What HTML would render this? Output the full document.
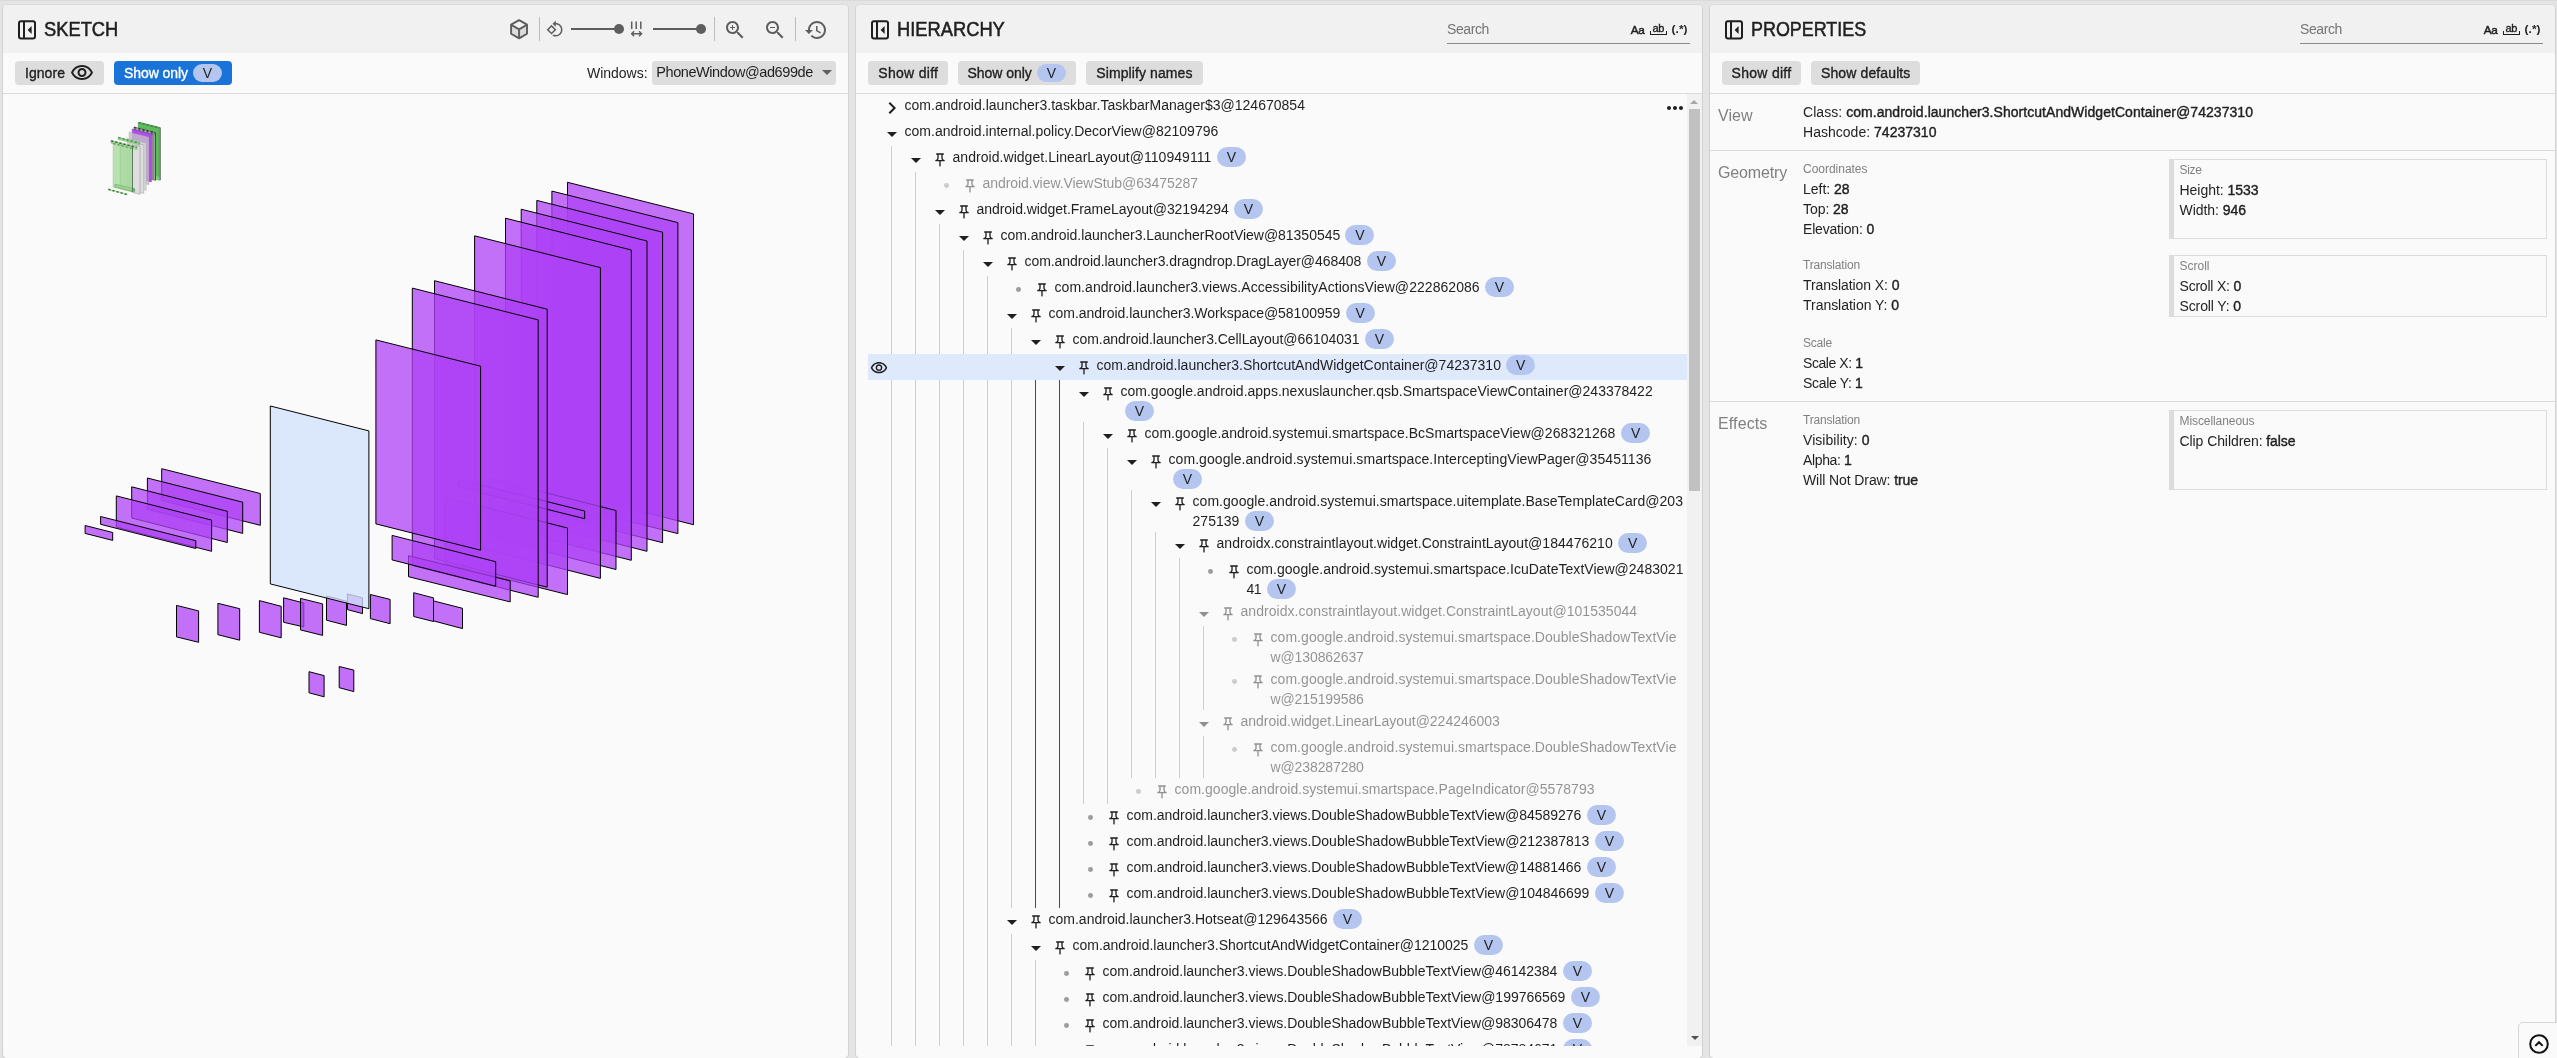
<!DOCTYPE html>
<html lang="en"><head><meta charset="utf-8"><title>Winscope</title>
<style>
html,body{margin:0;padding:0}
body{width:2557px;height:1058px;overflow:hidden;position:relative;background:#e4e4e4;
font-family:"Liberation Sans",sans-serif;}
.root{position:absolute;left:0;top:0;width:2557px;height:1058px;overflow:hidden;will-change:transform}
.a{position:absolute;display:block}
.t{position:absolute;white-space:nowrap;display:block}
.m{-webkit-text-stroke:.35px currentColor}
.m2{-webkit-text-stroke:.55px currentColor}
.t b{font-weight:normal;-webkit-text-stroke:.4px currentColor}
.g{opacity:.48}
</style></head>
<body>
<div class="root">
<div class="a" style="left:0px;top:0px;width:2557px;height:1px;background:#dadada;"></div>
<div class="a" style="left:3px;top:5px;width:845px;height:1053px;background:#fafafa;border-radius:4px;box-shadow:-1px 0 0 rgba(0,0,0,.08),1px 0 0 rgba(0,0,0,.08),0 -1px 0 rgba(0,0,0,.035),0 1px 0 rgba(0,0,0,.08);overflow:hidden;"></div><div class="a" style="left:3px;top:5px;width:845px;height:48px;background:#f1f1f1;border-radius:4px 4px 0 0;"></div><div class="a" style="left:3px;top:93px;width:845px;height:1px;background:#dadada;"></div>
<svg class="a" style="left:15px;top:17.5px" width="24" height="24" viewBox="0 0 24 24"><rect x="4" y="3.2" width="16" height="17.3" rx="2" fill="none" stroke="#1f1f1f" stroke-width="2"/><rect x="8" y="4" width="2" height="16" fill="#1f1f1f"/><path d="M16.6 8v8l-4-4z" fill="#1f1f1f"/></svg>
<span class="t m2" style="left:43.6px;top:14.6px;font-size:21px;line-height:28px;color:#1f1f1f;transform-origin:0 50%;transform:scaleX(0.8722);">SKETCH</span>
<svg class="a" style="left:507px;top:17px" width="24" height="25" viewBox="0 0 24 25"><path d="M4.1 7.7 12.1 12.3 20 7.7V16.7L12.1 21.4 4.1 16.7Z" fill="#dcdcdc"/><path d="M12.1 3.2 20 7.7V16.7L12.1 21.4 4.1 16.7V7.7Z" fill="none" stroke="#5c5c5c" stroke-width="1.9" stroke-linejoin="round"/><path d="M4.3 7.9 12.1 12.4 19.8 7.9M12.1 12.4V21.2" fill="none" stroke="#5c5c5c" stroke-width="1.9"/></svg>
<div class="a" style="left:539px;top:17px;width:1px;height:24px;background:#bcbcbc;"></div>
<svg class="a" style="left:545.8px;top:20.4px;" width="18" height="18" viewBox="0 0 24 24"><path fill="#5e5e5e" d="M7.34 6.41L.86 12.9l6.49 6.48 6.49-6.48-6.5-6.49zM3.69 12.9l3.66-3.66L11 12.9l-3.66 3.66-3.65-3.66zm15.67-6.26C17.61 4.88 15.3 4 13 4V.76L8.76 5 13 9.24V6c1.79 0 3.58.68 4.95 2.05 2.73 2.73 2.73 7.17 0 9.9C16.58 19.32 14.79 20 13 20c-.97 0-1.94-.21-2.84-.61l-1.49 1.49C10.02 21.62 11.51 22 13 22c2.3 0 4.61-.88 6.36-2.64 3.52-3.51 3.52-9.21 0-12.72z"/></svg>
<div class="a" style="left:571px;top:28px;width:45px;height:2px;background:#5e5e5e;"></div>
<div class="a" style="left:614px;top:24px;width:10px;height:10px;background:#5e5e5e;border-radius:50%;"></div>
<svg class="a" style="left:629px;top:20px" width="15" height="18" viewBox="0 0 15 18"><path d="M2.7 1.5v7.6M7.2 1.5v7.6M11.8 1.5v7.6" stroke="#5e5e5e" stroke-width="1.5" fill="none"/><path d="M2.8 13.8h9.6M5.1 11.3 2.6 13.8l2.5 2.5M10.1 11.3 12.6 13.8l-2.5 2.5" stroke="#5e5e5e" stroke-width="1.4" fill="none"/></svg>
<div class="a" style="left:653px;top:28px;width:45px;height:2px;background:#5e5e5e;"></div>
<div class="a" style="left:696px;top:24px;width:10px;height:10px;background:#5e5e5e;border-radius:50%;"></div>
<div class="a" style="left:714px;top:17px;width:1px;height:24px;background:#bcbcbc;"></div>
<svg class="a" style="left:723px;top:18.3px;" width="24" height="24" viewBox="0 0 24 24"><path fill="#5e5e5e" d="M15.5 14h-.79l-.28-.27C15.41 12.59 16 11.11 16 9.5 16 5.91 13.09 3 9.5 3S3 5.91 3 9.5 5.91 16 9.5 16c1.61 0 3.09-.59 4.23-1.57l.27.28v.79l5 4.99L20.49 19l-4.99-5zm-6 0C7.01 14 5 11.99 5 9.5S7.01 5 9.5 5 14 7.01 14 9.5 11.99 14 9.5 14zM12 10h-2v2H9v-2H7V9h2V7h1v2h2v1z"/></svg>
<svg class="a" style="left:763px;top:18.3px;" width="24" height="24" viewBox="0 0 24 24"><path fill="#5e5e5e" d="M15.5 14h-.79l-.28-.27C15.41 12.59 16 11.11 16 9.5 16 5.91 13.09 3 9.5 3S3 5.91 3 9.5 5.91 16 9.5 16c1.61 0 3.09-.59 4.23-1.57l.27.28v.79l5 4.99L20.49 19l-4.99-5zm-6 0C7.01 14 5 11.99 5 9.5S7.01 5 9.5 5 14 7.01 14 9.5 11.99 14 9.5 14zM7 9h5v1H7z"/></svg>
<div class="a" style="left:795px;top:17px;width:1px;height:24px;background:#bcbcbc;"></div>
<svg class="a" style="left:804.3px;top:18px;" width="24" height="24" viewBox="0 0 24 24"><path fill="#5e5e5e" d="M13 3c-4.97 0-9 4.03-9 9H1l3.89 3.89.07.14L9 12H6c0-3.87 3.13-7 7-7s7 3.13 7 7-3.13 7-7 7c-1.93 0-3.68-.79-4.94-2.06l-1.42 1.42C8.27 19.99 10.51 21 13 21c4.97 0 9-4.03 9-9s-4.03-9-9-9zm-1 5v5l4.28 2.54.72-1.21-3.5-2.08V8H12z"/></svg>
<div class="a" style="left:15px;top:61px;width:89px;height:24px;background:#dddddd;border-radius:4px;"></div>
<span class="t m" style="left:25px;top:63px;font-size:14px;line-height:20px;color:#1f1f1f;letter-spacing:0.049px;">Ignore</span>
<svg class="a" style="left:70.2px;top:61px;" width="24" height="24" viewBox="0 0 24 24"><path fill="#1f1f1f" d="M12 6c3.79 0 7.17 2.13 8.82 5.5C19.17 14.87 15.79 17 12 17s-7.17-2.13-8.82-5.5C4.83 8.13 8.21 6 12 6m0-2C7 4 2.73 7.11 1 11.5 2.73 15.89 7 19 12 19s9.27-3.11 11-7.5C21.27 7.11 17 4 12 4zm0 5c1.38 0 2.5 1.12 2.5 2.5S13.38 14 12 14s-2.5-1.12-2.5-2.5S10.62 9 12 9m0-2c-2.48 0-4.5 2.02-4.5 4.5S9.52 16 12 16s4.5-2.02 4.5-4.5S14.48 7 12 7z"/></svg>
<div class="a" style="left:114px;top:61px;width:118px;height:24px;background:#1a73d8;border-radius:4px;"></div>
<span class="t m" style="left:124px;top:63px;font-size:14px;line-height:20px;color:#fff;letter-spacing:-0.066px;">Show only</span>
<div class="a" style="left:193px;top:64px;width:29px;height:18px;background:#b4c6f0;border-radius:9px;"></div><span class="t" style="left:193px;top:64px;font-size:14px;line-height:18px;color:#1f1f1f;width:29px;text-align:center;">V</span>
<span class="t" style="left:587px;top:63px;font-size:14px;line-height:20px;color:#1f1f1f;letter-spacing:-0.023px;">Windows:</span>
<div class="a" style="left:652px;top:61px;width:184px;height:24px;background:#dddddd;border-radius:4px;"></div>
<span class="t" style="left:656.3px;top:62px;font-size:14.5px;line-height:20px;color:#1f1f1f;letter-spacing:-0.430px;">PhoneWindow@ad699de</span>
<svg class="a" style="left:821.8px;top:70px" width="10" height="5" viewBox="0 0 10 5"><path d="M0 0h10L5 5z" fill="#5e5e5e"/></svg>
<svg class="a" style="left:0;top:0" width="2557" height="1058" viewBox="0 0 2557 1058"><polygon points="567.5,182.3 693.5,213.9 693.5,524.7 567.5,493.1" fill="#ad42f5" fill-opacity="0.75" stroke="#000" stroke-width="1" stroke-opacity="1"/>
<polygon points="551.9,191.1 677.9,222.6 677.9,533.6 551.9,502.1" fill="#ad42f5" fill-opacity="0.75" stroke="#000" stroke-width="1" stroke-opacity="1"/>
<polygon points="536.8,200.4 662.6,232.2 662.6,542.7 536.8,510.9" fill="#ad42f5" fill-opacity="0.75" stroke="#000" stroke-width="1" stroke-opacity="1"/>
<polygon points="521.2,209.2 647.0,241.0 647.0,551.3 521.2,519.5" fill="#ad42f5" fill-opacity="0.75" stroke="#000" stroke-width="1" stroke-opacity="1"/>
<polygon points="505.5,218.2 631.3,250.0 631.3,560.3 505.5,528.5" fill="#ad42f5" fill-opacity="0.75" stroke="#000" stroke-width="1" stroke-opacity="1"/>
<polygon points="489.5,478.5 616.0,510.5 616.0,569.5 489.5,537.5" fill="#ad42f5" fill-opacity="0.75" stroke="#000" stroke-width="1" stroke-opacity="1"/>
<polygon points="474.6,235.8 600.4,267.6 600.4,578.4 474.6,546.6" fill="#ad42f5" fill-opacity="0.75" stroke="#000" stroke-width="1" stroke-opacity="1"/>
<polygon points="458.7,479.5 584.7,511.0 584.7,518.7 458.7,487.2" fill="#ad42f5" fill-opacity="0.75" stroke="#000" stroke-width="1" stroke-opacity="1"/>
<polygon points="445.0,497.3 567.5,528.0 567.5,594.6 445.0,563.9" fill="#ad42f5" fill-opacity="0.75" stroke="#000" stroke-width="1" stroke-opacity="1"/>
<polygon points="434.5,280.7 547.2,309.2 547.2,587.2 434.5,558.7" fill="#ad42f5" fill-opacity="0.75" stroke="#000" stroke-width="1" stroke-opacity="1"/>
<polygon points="412.3,288.1 538.2,319.9 538.2,597.3 412.3,565.5" fill="#ad42f5" fill-opacity="0.75" stroke="#000" stroke-width="1" stroke-opacity="1"/>
<polygon points="408.5,555.7 510.2,580.9 510.2,601.9 408.5,576.7" fill="#ad42f5" fill-opacity="0.75" stroke="#000" stroke-width="1" stroke-opacity="1"/>
<polygon points="392.1,535.4 495.7,561.7 495.7,586.2 392.1,559.9" fill="#ad42f5" fill-opacity="0.75" stroke="#000" stroke-width="1" stroke-opacity="1"/>
<polygon points="375.9,339.9 480.6,366.2 480.6,550.2 375.9,523.9" fill="#ad42f5" fill-opacity="0.75" stroke="#000" stroke-width="1" stroke-opacity="1"/>
<polygon points="161.7,468.7 260.3,493.5 260.3,525.3 161.7,500.5" fill="#ad42f5" fill-opacity="0.75" stroke="#000" stroke-width="1" stroke-opacity="1"/>
<polygon points="147.4,478.0 242.7,502.2 242.7,533.4 147.4,509.2" fill="#ad42f5" fill-opacity="0.75" stroke="#000" stroke-width="1" stroke-opacity="1"/>
<polygon points="131.7,486.8 227.3,511.3 227.3,542.5 131.7,518.0" fill="#ad42f5" fill-opacity="0.75" stroke="#000" stroke-width="1" stroke-opacity="1"/>
<polygon points="116.3,495.9 211.6,520.1 211.6,551.3 116.3,527.1" fill="#ad42f5" fill-opacity="0.75" stroke="#000" stroke-width="1" stroke-opacity="1"/>
<polygon points="100.6,516.5 195.8,540.7 195.8,548.5 100.6,524.3" fill="#ad42f5" fill-opacity="0.75" stroke="#000" stroke-width="1" stroke-opacity="1"/>
<polygon points="85.1,525.5 112.7,532.5 112.7,540.4 85.1,533.4" fill="#ad42f5" fill-opacity="0.75" stroke="#000" stroke-width="1" stroke-opacity="1"/>
<polygon points="433.5,600.9 462.5,608.3 462.5,628.6 433.5,620.9" fill="#ad42f5" fill-opacity="0.75" stroke="#000" stroke-width="1" stroke-opacity="1"/>
<polygon points="413.7,592.7 433.5,597.9 433.5,621.5 413.7,616.5" fill="#ad42f5" fill-opacity="0.75" stroke="#000" stroke-width="1" stroke-opacity="1"/>
<polygon points="370.4,594.5 390.1,599.4 390.1,623.7 370.4,618.6" fill="#ad42f5" fill-opacity="0.75" stroke="#000" stroke-width="1" stroke-opacity="1"/>
<polygon points="347.4,593.9 362.5,597.8 362.5,613.6 347.4,609.6" fill="#ad42f5" fill-opacity="0.75" stroke="#000" stroke-width="1" stroke-opacity="1"/>
<polygon points="326.5,596.0 346.5,601.2 346.5,625.4 326.5,620.2" fill="#ad42f5" fill-opacity="0.75" stroke="#000" stroke-width="1" stroke-opacity="1"/>
<polygon points="283.6,597.8 303.8,603.0 303.8,626.9 283.6,622.3" fill="#ad42f5" fill-opacity="0.75" stroke="#000" stroke-width="1" stroke-opacity="1"/>
<polygon points="300.5,598.4 322.6,603.9 322.6,635.4 300.5,629.9" fill="#ad42f5" fill-opacity="0.75" stroke="#000" stroke-width="1" stroke-opacity="1"/>
<polygon points="259.4,600.6 281.2,606.3 281.2,637.8 259.4,632.3" fill="#ad42f5" fill-opacity="0.75" stroke="#000" stroke-width="1" stroke-opacity="1"/>
<polygon points="217.9,603.3 239.7,608.7 239.7,640.2 217.9,634.7" fill="#ad42f5" fill-opacity="0.75" stroke="#000" stroke-width="1" stroke-opacity="1"/>
<polygon points="176.5,605.4 198.6,610.9 198.6,642.3 176.5,636.9" fill="#ad42f5" fill-opacity="0.75" stroke="#000" stroke-width="1" stroke-opacity="1"/>
<polygon points="309.0,671.7 324.1,675.6 324.1,696.8 309.0,692.8" fill="#ad42f5" fill-opacity="0.75" stroke="#000" stroke-width="1" stroke-opacity="1"/>
<polygon points="339.2,666.5 353.8,670.1 353.8,691.6 339.2,687.7" fill="#ad42f5" fill-opacity="0.75" stroke="#000" stroke-width="1" stroke-opacity="1"/>
<polygon points="270.3,406.0 368.9,430.9 368.9,608.7 270.3,583.9" fill="#d2e3fc" fill-opacity="0.78" stroke="#000" stroke-width="1" stroke-opacity="1"/><polygon points="139.4,122.4 160.4,127.7 160.4,180.0 139.4,174.7" fill="#5cb85c" fill-opacity="0.95" stroke="#3a3a3a" stroke-width="0.8" stroke-opacity="0.7"/>
<polygon points="138.2,122.2 159.1,127.4 159.1,180.2 138.2,175.0" fill="#5fbd5f" fill-opacity="0.95" stroke="#2f6b2f" stroke-width="0.6" stroke-opacity="0.5"/>
<polygon points="155.5,176.0 159.1,176.9 159.1,180.4 155.5,179.5" fill="#7fd07a" fill-opacity="1" stroke="none" stroke-width="0.5" stroke-opacity="1"/>
<line x1="138.4" y1="122.9" x2="159.0" y2="128.1" stroke="#2f7a2f" stroke-width="1.3" stroke-dasharray="2.2 2" stroke-opacity="0.8"/>
<polygon points="134.0,127.0 155.5,132.4 155.5,180.4 134.0,175.0" fill="#a9b3a9" fill-opacity="0.97" stroke="#4a4a4a" stroke-width="0.7" stroke-opacity="0.8"/>
<line x1="153.0" y1="132.3" x2="153.0" y2="179.6" stroke="#3e463e" stroke-width="0.8" stroke-opacity="0.85"/>
<line x1="155.4" y1="132.6" x2="155.4" y2="180.3" stroke="#2e2e2e" stroke-width="0.8" stroke-opacity="0.9"/>
<line x1="134.2" y1="127.6" x2="155.2" y2="132.9" stroke="#333" stroke-width="1.5" stroke-dasharray="2.2 2" stroke-opacity="1"/>
<line x1="134.2" y1="129.6" x2="155.2" y2="134.9" stroke="#444" stroke-width="1.3" stroke-dasharray="2.2 2" stroke-opacity="0.8"/>
<polygon points="132.2,129.1 151.4,133.9 151.4,181.9 132.2,177.1" fill="#b04af2" fill-opacity="1" stroke="#5a2a80" stroke-width="0.5" stroke-opacity="0.7"/>
<polygon points="129.1,131.9 149.0,136.9 149.0,184.7 129.1,179.7" fill="#c4c0c6" fill-opacity="0.78" stroke="#8a8a8a" stroke-width="0.5" stroke-opacity="0.6"/>
<polygon points="127.3,138.4 146.2,143.1 146.2,190.3 127.3,185.6" fill="#d8d8d8" fill-opacity="0.92" stroke="#9c9c9c" stroke-width="0.5" stroke-opacity="0.8"/>
<polygon points="130.0,141.5 143.8,145.0 143.8,193.4 130.0,189.9" fill="#dcdcdc" fill-opacity="0.95" stroke="#8c8c8c" stroke-width="0.5" stroke-opacity="0.8"/>
<polygon points="132.5,144.6 140.0,146.5 140.0,194.3 132.5,192.4" fill="#dedede" fill-opacity="1" stroke="#7c7c7c" stroke-width="0.5" stroke-opacity="0.9"/>
<polygon points="118.1,137.1 139.8,142.5 139.8,144.9 118.1,139.5" fill="#8fd488" fill-opacity="0.9" stroke="#4f9a4f" stroke-width="0.4" stroke-opacity="0.7"/>
<polygon points="110.9,140.3 137.0,146.9 137.0,149.8 110.9,143.2" fill="#a4dc9c" fill-opacity="0.9" stroke="#4f9a4f" stroke-width="0.4" stroke-opacity="0.7"/>
<polygon points="113.2,142.1 132.5,146.9 132.5,191.9 113.2,187.1" fill="#a9d9a0" fill-opacity="0.95" stroke="#6a9a66" stroke-width="0.5" stroke-opacity="0.8"/>
<polygon points="113.2,142.1 120.2,143.9 120.2,188.9 113.2,187.1" fill="#bfe6b6" fill-opacity="0.7" stroke="none" stroke-width="0.5" stroke-opacity="1"/>
<line x1="120.2" y1="143.9" x2="120.2" y2="188.9" stroke="#8fc088" stroke-width="0.5" stroke-opacity="1"/>
<line x1="132.5" y1="147.2" x2="132.5" y2="192.0" stroke="#4a5a4a" stroke-width="0.8" stroke-opacity="0.85"/>
<polygon points="115.0,184.2 132.1,188.4 132.1,191.3 115.0,187.0" fill="#9fd496" fill-opacity="0.9" stroke="#5fa058" stroke-width="0.6" stroke-opacity="0.9"/>
<polygon points="132.5,188.2 134.6,188.8 134.6,191.6 132.5,191.0" fill="#6cc266" fill-opacity="1" stroke="#2f6b2f" stroke-width="0.5" stroke-opacity="0.9"/>
<line x1="118.4" y1="137.7" x2="139.4" y2="143.0" stroke="#2f7a2f" stroke-width="1.3" stroke-dasharray="2.2 2" stroke-opacity="0.85"/>
<line x1="111.2" y1="141.0" x2="136.6" y2="147.4" stroke="#275f27" stroke-width="1.5" stroke-dasharray="2.2 2" stroke-opacity="0.9"/>
<line x1="113.4" y1="143.6" x2="132.2" y2="148.4" stroke="#3a7a3a" stroke-width="1.2" stroke-dasharray="2.2 2" stroke-opacity="0.8"/>
<polygon points="108.2,188.6 127.6,193.5 127.6,195.1 108.2,190.2" fill="#a4dc9c" fill-opacity="0.8" stroke="none" stroke-width="0.5" stroke-opacity="1"/>
<line x1="108.4" y1="189.3" x2="128.0" y2="194.9" stroke="#2f6b2f" stroke-width="1.5" stroke-dasharray="2.2 2" stroke-opacity="0.9"/></svg>
<div class="a" style="left:856px;top:5px;width:846px;height:1053px;background:#fafafa;border-radius:4px;box-shadow:-1px 0 0 rgba(0,0,0,.08),1px 0 0 rgba(0,0,0,.08),0 -1px 0 rgba(0,0,0,.035),0 1px 0 rgba(0,0,0,.08);overflow:hidden;"></div><div class="a" style="left:856px;top:5px;width:846px;height:48px;background:#f1f1f1;border-radius:4px 4px 0 0;"></div><div class="a" style="left:856px;top:93px;width:846px;height:1px;background:#dadada;"></div>
<svg class="a" style="left:868px;top:17.5px" width="24" height="24" viewBox="0 0 24 24"><rect x="4" y="3.2" width="16" height="17.3" rx="2" fill="none" stroke="#1f1f1f" stroke-width="2"/><rect x="8" y="4" width="2" height="16" fill="#1f1f1f"/><path d="M16.6 8v8l-4-4z" fill="#1f1f1f"/></svg>
<span class="t m2" style="left:896.8px;top:14.6px;font-size:21px;line-height:28px;color:#1f1f1f;transform-origin:0 50%;transform:scaleX(0.8716);">HIERARCHY</span>
<span class="t" style="left:1447px;top:19px;font-size:14px;line-height:20px;color:#757575;letter-spacing:-0.393px;">Search</span><div class="a" style="left:1447px;top:43px;width:243px;height:1px;background:#8a8a8a;"></div><span class="t" style="left:1630.7px;top:21px;font-size:11.8px;line-height:18px;color:#1f1f1f;letter-spacing:-.3px;-webkit-text-stroke:.45px currentColor;">Aa</span><span class="t" style="left:1652.5px;top:18.6px;font-size:11px;line-height:18px;color:#1f1f1f;letter-spacing:-.35px;-webkit-text-stroke:.35px currentColor;">ab</span><div class="a" style="left:1650px;top:31.2px;width:16.8px;height:3.6px;border:1.4px solid #1f1f1f;border-top:none;box-sizing:border-box;"></div><span class="t" style="left:1671.5px;top:20.1px;font-size:11.8px;line-height:18px;color:#1f1f1f;font-weight:bold;letter-spacing:.1px;">(.*)</span>
<div class="a" style="left:868px;top:61px;width:80px;height:24px;background:#dddddd;border-radius:4px;"></div><span class="t m" style="left:878.3px;top:63px;font-size:14px;line-height:20px;color:#1f1f1f;letter-spacing:0.295px;">Show diff</span>
<div class="a" style="left:958px;top:61px;width:118px;height:24px;background:#dddddd;border-radius:4px;"></div>
<span class="t m" style="left:967.5px;top:63px;font-size:14px;line-height:20px;color:#1f1f1f;letter-spacing:-0.033px;">Show only</span>
<div class="a" style="left:1037px;top:64px;width:29px;height:18px;background:#b4c6f0;border-radius:9px;"></div><span class="t" style="left:1037px;top:64px;font-size:14px;line-height:18px;color:#1f1f1f;width:29px;text-align:center;">V</span>
<div class="a" style="left:1086px;top:61px;width:117px;height:24px;background:#dddddd;border-radius:4px;"></div><span class="t m" style="left:1096.3px;top:63px;font-size:14px;line-height:20px;color:#1f1f1f;letter-spacing:0.098px;">Simplify names</span>
<div class="a" style="left:0;top:94px;width:1702px;height:952px;overflow:hidden;"><div class="a" style="left:0;top:-94px;"><div class="a" style="left:891px;top:146px;width:1px;height:900px;background:#cfcfcf;"></div><div class="a" style="left:915px;top:172px;width:1px;height:874px;background:#cfcfcf;"></div><div class="a" style="left:939px;top:224px;width:1px;height:822px;background:#cfcfcf;"></div><div class="a" style="left:963px;top:250px;width:1px;height:796px;background:#cfcfcf;"></div><div class="a" style="left:987px;top:276px;width:1px;height:770px;background:#cfcfcf;"></div><div class="a" style="left:1011px;top:328px;width:1px;height:26px;background:#cfcfcf;"></div><div class="a" style="left:1011px;top:380px;width:1px;height:528px;background:#cfcfcf;"></div><div class="a" style="left:1035px;top:380px;width:1px;height:528px;background:#4a4a4a;"></div><div class="a" style="left:1059px;top:380px;width:1px;height:528px;background:#4a4a4a;"></div><div class="a" style="left:1083px;top:422px;width:1px;height:382px;background:#cfcfcf;"></div><div class="a" style="left:1107px;top:448px;width:1px;height:356px;background:#cfcfcf;"></div><div class="a" style="left:1131px;top:490px;width:1px;height:288px;background:#cfcfcf;"></div><div class="a" style="left:1155px;top:532px;width:1px;height:246px;background:#cfcfcf;"></div><div class="a" style="left:1179px;top:558px;width:1px;height:220px;background:#cfcfcf;"></div><div class="a" style="left:1203px;top:626px;width:1px;height:84px;background:#cfcfcf;"></div><div class="a" style="left:1203px;top:736px;width:1px;height:42px;background:#cfcfcf;"></div><div class="a" style="left:1011px;top:934px;width:1px;height:112px;background:#cfcfcf;"></div><div class="a" style="left:1035px;top:960px;width:1px;height:86px;background:#cfcfcf;"></div><div class="a" style="left:868px;top:354px;width:819px;height:26px;background:#dfe9fc;"></div><svg class="a" style="left:870px;top:359px;" width="18" height="18" viewBox="0 0 24 24"><path fill="#1f1f1f" d="M12 6c3.79 0 7.17 2.13 8.82 5.5C19.17 14.87 15.79 17 12 17s-7.17-2.13-8.82-5.5C4.83 8.13 8.21 6 12 6m0-2C7 4 2.73 7.11 1 11.5 2.73 15.89 7 19 12 19s9.27-3.11 11-7.5C21.27 7.11 17 4 12 4zm0 5c1.38 0 2.5 1.12 2.5 2.5S13.38 14 12 14s-2.5-1.12-2.5-2.5S10.62 9 12 9m0-2c-2.48 0-4.5 2.02-4.5 4.5S9.52 16 12 16s4.5-2.02 4.5-4.5S14.48 7 12 7z"/></svg><svg class="a" style="left:1662.5px;top:96px;" width="24" height="24" viewBox="0 0 24 24"><path fill="#1f1f1f" d="M6 10c-1.1 0-2 .9-2 2s.9 2 2 2 2-.9 2-2-.9-2-2-2zm12 0c-1.1 0-2 .9-2 2s.9 2 2 2 2-.9 2-2-.9-2-2-2zm-6 0c-1.1 0-2 .9-2 2s.9 2 2 2 2-.9 2-2-.9-2-2-2z"/></svg><svg class="a" style="left:880px;top:96px;" width="24" height="24" viewBox="0 0 24 24"><path fill="#1f1f1f" d="M10 6L8.59 7.41 13.17 12l-4.58 4.59L10 18l6-6z"/></svg><span class="t" style="left:904.5px;top:95px;font-size:14px;line-height:20px;color:#1f1f1f;letter-spacing:0.018px;">com.android.launcher3.taskbar.TaskbarManager$3@124670854</span><svg class="a" style="left:880px;top:122px;" width="24" height="24" viewBox="0 0 24 24"><path fill="#1f1f1f" d="M7 10l5 5 5-5z"/></svg><span class="t" style="left:904.5px;top:121px;font-size:14px;line-height:20px;color:#1f1f1f;letter-spacing:0.010px;">com.android.internal.policy.DecorView@82109796</span><svg class="a" style="left:904px;top:148px;" width="24" height="24" viewBox="0 0 24 24"><path fill="#1f1f1f" d="M7 10l5 5 5-5z"/></svg><svg class="a" style="left:932px;top:152px;" width="16" height="16" viewBox="0 0 24 24"><path fill="#1f1f1f" d="M14 4v5c0 1.12.37 2.16 1 3H9c.65-.86 1-1.9 1-3V4h4m3-2H7c-.55 0-1 .45-1 1s.45 1 1 1h1v5c0 1.66-1.34 3-3 3v2h5.97v7l1 1 1-1v-7H19v-2c-1.66 0-3-1.34-3-3V4h1c.55 0 1-.45 1-1s-.45-1-1-1z"/></svg><span class="t" style="left:952.5px;top:147px;font-size:14px;line-height:20px;color:#1f1f1f;letter-spacing:0.047px;">android.widget.LinearLayout@110949111</span><div class="a" style="left:1217px;top:147px;width:29px;height:20px;background:#b4c6f0;border-radius:10px;"></div><span class="t" style="left:1217px;top:147px;font-size:14px;line-height:20px;color:#1f1f1f;width:29px;text-align:center;">V</span><div class="g"><div class="a" style="left:944.1px;top:183.3px;width:4.8px;height:4.8px;background:#9c9c9c;border-radius:50%;"></div><svg class="a" style="left:962px;top:178px;" width="16" height="16" viewBox="0 0 24 24"><path fill="#1f1f1f" d="M14 4v5c0 1.12.37 2.16 1 3H9c.65-.86 1-1.9 1-3V4h4m3-2H7c-.55 0-1 .45-1 1s.45 1 1 1h1v5c0 1.66-1.34 3-3 3v2h5.97v7l1 1 1-1v-7H19v-2c-1.66 0-3-1.34-3-3V4h1c.55 0 1-.45 1-1s-.45-1-1-1z"/></svg><span class="t" style="left:982.5px;top:173px;font-size:14px;line-height:20px;color:#1f1f1f;letter-spacing:-0.054px;">android.view.ViewStub@63475287</span></div><svg class="a" style="left:928px;top:200px;" width="24" height="24" viewBox="0 0 24 24"><path fill="#1f1f1f" d="M7 10l5 5 5-5z"/></svg><svg class="a" style="left:956px;top:204px;" width="16" height="16" viewBox="0 0 24 24"><path fill="#1f1f1f" d="M14 4v5c0 1.12.37 2.16 1 3H9c.65-.86 1-1.9 1-3V4h4m3-2H7c-.55 0-1 .45-1 1s.45 1 1 1h1v5c0 1.66-1.34 3-3 3v2h5.97v7l1 1 1-1v-7H19v-2c-1.66 0-3-1.34-3-3V4h1c.55 0 1-.45 1-1s-.45-1-1-1z"/></svg><span class="t" style="left:976.5px;top:199px;font-size:14px;line-height:20px;color:#1f1f1f;letter-spacing:-0.047px;">android.widget.FrameLayout@32194294</span><div class="a" style="left:1234px;top:199px;width:29px;height:20px;background:#b4c6f0;border-radius:10px;"></div><span class="t" style="left:1234px;top:199px;font-size:14px;line-height:20px;color:#1f1f1f;width:29px;text-align:center;">V</span><svg class="a" style="left:952px;top:226px;" width="24" height="24" viewBox="0 0 24 24"><path fill="#1f1f1f" d="M7 10l5 5 5-5z"/></svg><svg class="a" style="left:980px;top:230px;" width="16" height="16" viewBox="0 0 24 24"><path fill="#1f1f1f" d="M14 4v5c0 1.12.37 2.16 1 3H9c.65-.86 1-1.9 1-3V4h4m3-2H7c-.55 0-1 .45-1 1s.45 1 1 1h1v5c0 1.66-1.34 3-3 3v2h5.97v7l1 1 1-1v-7H19v-2c-1.66 0-3-1.34-3-3V4h1c.55 0 1-.45 1-1s-.45-1-1-1z"/></svg><span class="t" style="left:1000.5px;top:225px;font-size:14px;line-height:20px;color:#1f1f1f;letter-spacing:-0.025px;">com.android.launcher3.LauncherRootView@81350545</span><div class="a" style="left:1345.3px;top:225px;width:29px;height:20px;background:#b4c6f0;border-radius:10px;"></div><span class="t" style="left:1345.3px;top:225px;font-size:14px;line-height:20px;color:#1f1f1f;width:29px;text-align:center;">V</span><svg class="a" style="left:976px;top:252px;" width="24" height="24" viewBox="0 0 24 24"><path fill="#1f1f1f" d="M7 10l5 5 5-5z"/></svg><svg class="a" style="left:1004px;top:256px;" width="16" height="16" viewBox="0 0 24 24"><path fill="#1f1f1f" d="M14 4v5c0 1.12.37 2.16 1 3H9c.65-.86 1-1.9 1-3V4h4m3-2H7c-.55 0-1 .45-1 1s.45 1 1 1h1v5c0 1.66-1.34 3-3 3v2h5.97v7l1 1 1-1v-7H19v-2c-1.66 0-3-1.34-3-3V4h1c.55 0 1-.45 1-1s-.45-1-1-1z"/></svg><span class="t" style="left:1024.5px;top:251px;font-size:14px;line-height:20px;color:#1f1f1f;letter-spacing:-0.074px;">com.android.launcher3.dragndrop.DragLayer@468408</span><div class="a" style="left:1367px;top:251px;width:29px;height:20px;background:#b4c6f0;border-radius:10px;"></div><span class="t" style="left:1367px;top:251px;font-size:14px;line-height:20px;color:#1f1f1f;width:29px;text-align:center;">V</span><div class="a" style="left:1016.1px;top:287.3px;width:4.8px;height:4.8px;background:#9c9c9c;border-radius:50%;"></div><svg class="a" style="left:1034px;top:282px;" width="16" height="16" viewBox="0 0 24 24"><path fill="#1f1f1f" d="M14 4v5c0 1.12.37 2.16 1 3H9c.65-.86 1-1.9 1-3V4h4m3-2H7c-.55 0-1 .45-1 1s.45 1 1 1h1v5c0 1.66-1.34 3-3 3v2h5.97v7l1 1 1-1v-7H19v-2c-1.66 0-3-1.34-3-3V4h1c.55 0 1-.45 1-1s-.45-1-1-1z"/></svg><span class="t" style="left:1054.5px;top:277px;font-size:14px;line-height:20px;color:#1f1f1f;letter-spacing:0.056px;">com.android.launcher3.views.AccessibilityActionsView@222862086</span><div class="a" style="left:1485px;top:277px;width:29px;height:20px;background:#b4c6f0;border-radius:10px;"></div><span class="t" style="left:1485px;top:277px;font-size:14px;line-height:20px;color:#1f1f1f;width:29px;text-align:center;">V</span><svg class="a" style="left:1000px;top:304px;" width="24" height="24" viewBox="0 0 24 24"><path fill="#1f1f1f" d="M7 10l5 5 5-5z"/></svg><svg class="a" style="left:1028px;top:308px;" width="16" height="16" viewBox="0 0 24 24"><path fill="#1f1f1f" d="M14 4v5c0 1.12.37 2.16 1 3H9c.65-.86 1-1.9 1-3V4h4m3-2H7c-.55 0-1 .45-1 1s.45 1 1 1h1v5c0 1.66-1.34 3-3 3v2h5.97v7l1 1 1-1v-7H19v-2c-1.66 0-3-1.34-3-3V4h1c.55 0 1-.45 1-1s-.45-1-1-1z"/></svg><span class="t" style="left:1048.5px;top:303px;font-size:14px;line-height:20px;color:#1f1f1f;letter-spacing:-0.022px;">com.android.launcher3.Workspace@58100959</span><div class="a" style="left:1345.7px;top:303px;width:29px;height:20px;background:#b4c6f0;border-radius:10px;"></div><span class="t" style="left:1345.7px;top:303px;font-size:14px;line-height:20px;color:#1f1f1f;width:29px;text-align:center;">V</span><svg class="a" style="left:1024px;top:330px;" width="24" height="24" viewBox="0 0 24 24"><path fill="#1f1f1f" d="M7 10l5 5 5-5z"/></svg><svg class="a" style="left:1052px;top:334px;" width="16" height="16" viewBox="0 0 24 24"><path fill="#1f1f1f" d="M14 4v5c0 1.12.37 2.16 1 3H9c.65-.86 1-1.9 1-3V4h4m3-2H7c-.55 0-1 .45-1 1s.45 1 1 1h1v5c0 1.66-1.34 3-3 3v2h5.97v7l1 1 1-1v-7H19v-2c-1.66 0-3-1.34-3-3V4h1c.55 0 1-.45 1-1s-.45-1-1-1z"/></svg><span class="t" style="left:1072.5px;top:329px;font-size:14px;line-height:20px;color:#1f1f1f;letter-spacing:-0.050px;">com.android.launcher3.CellLayout@66104031</span><div class="a" style="left:1365px;top:329px;width:29px;height:20px;background:#b4c6f0;border-radius:10px;"></div><span class="t" style="left:1365px;top:329px;font-size:14px;line-height:20px;color:#1f1f1f;width:29px;text-align:center;">V</span><svg class="a" style="left:1048px;top:356px;" width="24" height="24" viewBox="0 0 24 24"><path fill="#1f1f1f" d="M7 10l5 5 5-5z"/></svg><svg class="a" style="left:1076px;top:360px;" width="16" height="16" viewBox="0 0 24 24"><path fill="#1f1f1f" d="M14 4v5c0 1.12.37 2.16 1 3H9c.65-.86 1-1.9 1-3V4h4m3-2H7c-.55 0-1 .45-1 1s.45 1 1 1h1v5c0 1.66-1.34 3-3 3v2h5.97v7l1 1 1-1v-7H19v-2c-1.66 0-3-1.34-3-3V4h1c.55 0 1-.45 1-1s-.45-1-1-1z"/></svg><span class="t" style="left:1096.5px;top:355px;font-size:14px;line-height:20px;color:#1f1f1f;letter-spacing:0.005px;">com.android.launcher3.ShortcutAndWidgetContainer@74237310</span><div class="a" style="left:1506.2px;top:355px;width:29px;height:20px;background:#b4c6f0;border-radius:10px;"></div><span class="t" style="left:1506.2px;top:355px;font-size:14px;line-height:20px;color:#1f1f1f;width:29px;text-align:center;">V</span><svg class="a" style="left:1072px;top:382px;" width="24" height="24" viewBox="0 0 24 24"><path fill="#1f1f1f" d="M7 10l5 5 5-5z"/></svg><svg class="a" style="left:1100px;top:386px;" width="16" height="16" viewBox="0 0 24 24"><path fill="#1f1f1f" d="M14 4v5c0 1.12.37 2.16 1 3H9c.65-.86 1-1.9 1-3V4h4m3-2H7c-.55 0-1 .45-1 1s.45 1 1 1h1v5c0 1.66-1.34 3-3 3v2h5.97v7l1 1 1-1v-7H19v-2c-1.66 0-3-1.34-3-3V4h1c.55 0 1-.45 1-1s-.45-1-1-1z"/></svg><span class="t" style="left:1120.5px;top:381px;font-size:14px;line-height:20px;color:#1f1f1f;letter-spacing:0.009px;">com.google.android.apps.nexuslauncher.qsb.SmartspaceViewContainer@243378422</span><div class="a" style="left:1125px;top:401px;width:29px;height:20px;background:#b4c6f0;border-radius:10px;"></div><span class="t" style="left:1125px;top:401px;font-size:14px;line-height:20px;color:#1f1f1f;width:29px;text-align:center;">V</span><svg class="a" style="left:1096px;top:424px;" width="24" height="24" viewBox="0 0 24 24"><path fill="#1f1f1f" d="M7 10l5 5 5-5z"/></svg><svg class="a" style="left:1124px;top:428px;" width="16" height="16" viewBox="0 0 24 24"><path fill="#1f1f1f" d="M14 4v5c0 1.12.37 2.16 1 3H9c.65-.86 1-1.9 1-3V4h4m3-2H7c-.55 0-1 .45-1 1s.45 1 1 1h1v5c0 1.66-1.34 3-3 3v2h5.97v7l1 1 1-1v-7H19v-2c-1.66 0-3-1.34-3-3V4h1c.55 0 1-.45 1-1s-.45-1-1-1z"/></svg><span class="t" style="left:1144.5px;top:423px;font-size:14px;line-height:20px;color:#1f1f1f;letter-spacing:0.050px;">com.google.android.systemui.smartspace.BcSmartspaceView@268321268</span><div class="a" style="left:1621.1px;top:423px;width:29px;height:20px;background:#b4c6f0;border-radius:10px;"></div><span class="t" style="left:1621.1px;top:423px;font-size:14px;line-height:20px;color:#1f1f1f;width:29px;text-align:center;">V</span><svg class="a" style="left:1120px;top:450px;" width="24" height="24" viewBox="0 0 24 24"><path fill="#1f1f1f" d="M7 10l5 5 5-5z"/></svg><svg class="a" style="left:1148px;top:454px;" width="16" height="16" viewBox="0 0 24 24"><path fill="#1f1f1f" d="M14 4v5c0 1.12.37 2.16 1 3H9c.65-.86 1-1.9 1-3V4h4m3-2H7c-.55 0-1 .45-1 1s.45 1 1 1h1v5c0 1.66-1.34 3-3 3v2h5.97v7l1 1 1-1v-7H19v-2c-1.66 0-3-1.34-3-3V4h1c.55 0 1-.45 1-1s-.45-1-1-1z"/></svg><span class="t" style="left:1168.5px;top:449px;font-size:14px;line-height:20px;color:#1f1f1f;letter-spacing:0.066px;">com.google.android.systemui.smartspace.InterceptingViewPager@35451136</span><div class="a" style="left:1173px;top:469px;width:29px;height:20px;background:#b4c6f0;border-radius:10px;"></div><span class="t" style="left:1173px;top:469px;font-size:14px;line-height:20px;color:#1f1f1f;width:29px;text-align:center;">V</span><svg class="a" style="left:1144px;top:492px;" width="24" height="24" viewBox="0 0 24 24"><path fill="#1f1f1f" d="M7 10l5 5 5-5z"/></svg><svg class="a" style="left:1172px;top:496px;" width="16" height="16" viewBox="0 0 24 24"><path fill="#1f1f1f" d="M14 4v5c0 1.12.37 2.16 1 3H9c.65-.86 1-1.9 1-3V4h4m3-2H7c-.55 0-1 .45-1 1s.45 1 1 1h1v5c0 1.66-1.34 3-3 3v2h5.97v7l1 1 1-1v-7H19v-2c-1.66 0-3-1.34-3-3V4h1c.55 0 1-.45 1-1s-.45-1-1-1z"/></svg><span class="t" style="left:1192.5px;top:491px;font-size:14px;line-height:20px;color:#1f1f1f;letter-spacing:0.045px;">com.google.android.systemui.smartspace.uitemplate.BaseTemplateCard@203</span><span class="t" style="left:1192.5px;top:511px;font-size:14px;line-height:20px;color:#1f1f1f;letter-spacing:0.030px;">275139</span><div class="a" style="left:1245px;top:511px;width:29px;height:20px;background:#b4c6f0;border-radius:10px;"></div><span class="t" style="left:1245px;top:511px;font-size:14px;line-height:20px;color:#1f1f1f;width:29px;text-align:center;">V</span><svg class="a" style="left:1168px;top:534px;" width="24" height="24" viewBox="0 0 24 24"><path fill="#1f1f1f" d="M7 10l5 5 5-5z"/></svg><svg class="a" style="left:1196px;top:538px;" width="16" height="16" viewBox="0 0 24 24"><path fill="#1f1f1f" d="M14 4v5c0 1.12.37 2.16 1 3H9c.65-.86 1-1.9 1-3V4h4m3-2H7c-.55 0-1 .45-1 1s.45 1 1 1h1v5c0 1.66-1.34 3-3 3v2h5.97v7l1 1 1-1v-7H19v-2c-1.66 0-3-1.34-3-3V4h1c.55 0 1-.45 1-1s-.45-1-1-1z"/></svg><span class="t" style="left:1216.5px;top:533px;font-size:14px;line-height:20px;color:#1f1f1f;letter-spacing:0.038px;">androidx.constraintlayout.widget.ConstraintLayout@184476210</span><div class="a" style="left:1618.2px;top:533px;width:29px;height:20px;background:#b4c6f0;border-radius:10px;"></div><span class="t" style="left:1618.2px;top:533px;font-size:14px;line-height:20px;color:#1f1f1f;width:29px;text-align:center;">V</span><div class="a" style="left:1208.1px;top:569.3px;width:4.8px;height:4.8px;background:#9c9c9c;border-radius:50%;"></div><svg class="a" style="left:1226px;top:564px;" width="16" height="16" viewBox="0 0 24 24"><path fill="#1f1f1f" d="M14 4v5c0 1.12.37 2.16 1 3H9c.65-.86 1-1.9 1-3V4h4m3-2H7c-.55 0-1 .45-1 1s.45 1 1 1h1v5c0 1.66-1.34 3-3 3v2h5.97v7l1 1 1-1v-7H19v-2c-1.66 0-3-1.34-3-3V4h1c.55 0 1-.45 1-1s-.45-1-1-1z"/></svg><span class="t" style="left:1246.5px;top:559px;font-size:14px;line-height:20px;color:#1f1f1f;letter-spacing:0.033px;">com.google.android.systemui.smartspace.IcuDateTextView@2483021</span><span class="t" style="left:1246.5px;top:579px;font-size:14px;line-height:20px;color:#1f1f1f;letter-spacing:-0.539px;">41</span><div class="a" style="left:1267px;top:579px;width:29px;height:20px;background:#b4c6f0;border-radius:10px;"></div><span class="t" style="left:1267px;top:579px;font-size:14px;line-height:20px;color:#1f1f1f;width:29px;text-align:center;">V</span><div class="g"><svg class="a" style="left:1192px;top:602px;" width="24" height="24" viewBox="0 0 24 24"><path fill="#1f1f1f" d="M7 10l5 5 5-5z"/></svg><svg class="a" style="left:1220px;top:606px;" width="16" height="16" viewBox="0 0 24 24"><path fill="#1f1f1f" d="M14 4v5c0 1.12.37 2.16 1 3H9c.65-.86 1-1.9 1-3V4h4m3-2H7c-.55 0-1 .45-1 1s.45 1 1 1h1v5c0 1.66-1.34 3-3 3v2h5.97v7l1 1 1-1v-7H19v-2c-1.66 0-3-1.34-3-3V4h1c.55 0 1-.45 1-1s-.45-1-1-1z"/></svg><span class="t" style="left:1240.5px;top:601px;font-size:14px;line-height:20px;color:#1f1f1f;letter-spacing:0.045px;">androidx.constraintlayout.widget.ConstraintLayout@101535044</span></div><div class="g"><div class="a" style="left:1232.1px;top:637.3px;width:4.8px;height:4.8px;background:#9c9c9c;border-radius:50%;"></div><svg class="a" style="left:1250px;top:632px;" width="16" height="16" viewBox="0 0 24 24"><path fill="#1f1f1f" d="M14 4v5c0 1.12.37 2.16 1 3H9c.65-.86 1-1.9 1-3V4h4m3-2H7c-.55 0-1 .45-1 1s.45 1 1 1h1v5c0 1.66-1.34 3-3 3v2h5.97v7l1 1 1-1v-7H19v-2c-1.66 0-3-1.34-3-3V4h1c.55 0 1-.45 1-1s-.45-1-1-1z"/></svg><span class="t" style="left:1270.5px;top:627px;font-size:14px;line-height:20px;color:#1f1f1f;letter-spacing:0.054px;">com.google.android.systemui.smartspace.DoubleShadowTextVie</span><span class="t" style="left:1270.5px;top:647px;font-size:14px;line-height:20px;color:#1f1f1f;letter-spacing:-0.101px;">w@130862637</span></div><div class="g"><div class="a" style="left:1232.1px;top:679.3px;width:4.8px;height:4.8px;background:#9c9c9c;border-radius:50%;"></div><svg class="a" style="left:1250px;top:674px;" width="16" height="16" viewBox="0 0 24 24"><path fill="#1f1f1f" d="M14 4v5c0 1.12.37 2.16 1 3H9c.65-.86 1-1.9 1-3V4h4m3-2H7c-.55 0-1 .45-1 1s.45 1 1 1h1v5c0 1.66-1.34 3-3 3v2h5.97v7l1 1 1-1v-7H19v-2c-1.66 0-3-1.34-3-3V4h1c.55 0 1-.45 1-1s-.45-1-1-1z"/></svg><span class="t" style="left:1270.5px;top:669px;font-size:14px;line-height:20px;color:#1f1f1f;letter-spacing:0.054px;">com.google.android.systemui.smartspace.DoubleShadowTextVie</span><span class="t" style="left:1270.5px;top:689px;font-size:14px;line-height:20px;color:#1f1f1f;letter-spacing:-0.101px;">w@215199586</span></div><div class="g"><svg class="a" style="left:1192px;top:712px;" width="24" height="24" viewBox="0 0 24 24"><path fill="#1f1f1f" d="M7 10l5 5 5-5z"/></svg><svg class="a" style="left:1220px;top:716px;" width="16" height="16" viewBox="0 0 24 24"><path fill="#1f1f1f" d="M14 4v5c0 1.12.37 2.16 1 3H9c.65-.86 1-1.9 1-3V4h4m3-2H7c-.55 0-1 .45-1 1s.45 1 1 1h1v5c0 1.66-1.34 3-3 3v2h5.97v7l1 1 1-1v-7H19v-2c-1.66 0-3-1.34-3-3V4h1c.55 0 1-.45 1-1s-.45-1-1-1z"/></svg><span class="t" style="left:1240.5px;top:711px;font-size:14px;line-height:20px;color:#1f1f1f;letter-spacing:-0.027px;">android.widget.LinearLayout@224246003</span></div><div class="g"><div class="a" style="left:1232.1px;top:747.3px;width:4.8px;height:4.8px;background:#9c9c9c;border-radius:50%;"></div><svg class="a" style="left:1250px;top:742px;" width="16" height="16" viewBox="0 0 24 24"><path fill="#1f1f1f" d="M14 4v5c0 1.12.37 2.16 1 3H9c.65-.86 1-1.9 1-3V4h4m3-2H7c-.55 0-1 .45-1 1s.45 1 1 1h1v5c0 1.66-1.34 3-3 3v2h5.97v7l1 1 1-1v-7H19v-2c-1.66 0-3-1.34-3-3V4h1c.55 0 1-.45 1-1s-.45-1-1-1z"/></svg><span class="t" style="left:1270.5px;top:737px;font-size:14px;line-height:20px;color:#1f1f1f;letter-spacing:0.054px;">com.google.android.systemui.smartspace.DoubleShadowTextVie</span><span class="t" style="left:1270.5px;top:757px;font-size:14px;line-height:20px;color:#1f1f1f;letter-spacing:-0.101px;">w@238287280</span></div><div class="g"><div class="a" style="left:1136.1px;top:789.3px;width:4.8px;height:4.8px;background:#9c9c9c;border-radius:50%;"></div><svg class="a" style="left:1154px;top:784px;" width="16" height="16" viewBox="0 0 24 24"><path fill="#1f1f1f" d="M14 4v5c0 1.12.37 2.16 1 3H9c.65-.86 1-1.9 1-3V4h4m3-2H7c-.55 0-1 .45-1 1s.45 1 1 1h1v5c0 1.66-1.34 3-3 3v2h5.97v7l1 1 1-1v-7H19v-2c-1.66 0-3-1.34-3-3V4h1c.55 0 1-.45 1-1s-.45-1-1-1z"/></svg><span class="t" style="left:1174.5px;top:779px;font-size:14px;line-height:20px;color:#1f1f1f;letter-spacing:0.046px;">com.google.android.systemui.smartspace.PageIndicator@5578793</span></div><div class="a" style="left:1088.1px;top:815.3px;width:4.8px;height:4.8px;background:#9c9c9c;border-radius:50%;"></div><svg class="a" style="left:1106px;top:810px;" width="16" height="16" viewBox="0 0 24 24"><path fill="#1f1f1f" d="M14 4v5c0 1.12.37 2.16 1 3H9c.65-.86 1-1.9 1-3V4h4m3-2H7c-.55 0-1 .45-1 1s.45 1 1 1h1v5c0 1.66-1.34 3-3 3v2h5.97v7l1 1 1-1v-7H19v-2c-1.66 0-3-1.34-3-3V4h1c.55 0 1-.45 1-1s-.45-1-1-1z"/></svg><span class="t" style="left:1126.5px;top:805px;font-size:14px;line-height:20px;color:#1f1f1f;letter-spacing:-0.018px;">com.android.launcher3.views.DoubleShadowBubbleTextView@84589276</span><div class="a" style="left:1586.9px;top:805px;width:29px;height:20px;background:#b4c6f0;border-radius:10px;"></div><span class="t" style="left:1586.9px;top:805px;font-size:14px;line-height:20px;color:#1f1f1f;width:29px;text-align:center;">V</span><div class="a" style="left:1088.1px;top:841.3px;width:4.8px;height:4.8px;background:#9c9c9c;border-radius:50%;"></div><svg class="a" style="left:1106px;top:836px;" width="16" height="16" viewBox="0 0 24 24"><path fill="#1f1f1f" d="M14 4v5c0 1.12.37 2.16 1 3H9c.65-.86 1-1.9 1-3V4h4m3-2H7c-.55 0-1 .45-1 1s.45 1 1 1h1v5c0 1.66-1.34 3-3 3v2h5.97v7l1 1 1-1v-7H19v-2c-1.66 0-3-1.34-3-3V4h1c.55 0 1-.45 1-1s-.45-1-1-1z"/></svg><span class="t" style="left:1126.5px;top:831px;font-size:14px;line-height:20px;color:#1f1f1f;letter-spacing:-0.016px;">com.android.launcher3.views.DoubleShadowBubbleTextView@212387813</span><div class="a" style="left:1594.8px;top:831px;width:29px;height:20px;background:#b4c6f0;border-radius:10px;"></div><span class="t" style="left:1594.8px;top:831px;font-size:14px;line-height:20px;color:#1f1f1f;width:29px;text-align:center;">V</span><div class="a" style="left:1088.1px;top:867.3px;width:4.8px;height:4.8px;background:#9c9c9c;border-radius:50%;"></div><svg class="a" style="left:1106px;top:862px;" width="16" height="16" viewBox="0 0 24 24"><path fill="#1f1f1f" d="M14 4v5c0 1.12.37 2.16 1 3H9c.65-.86 1-1.9 1-3V4h4m3-2H7c-.55 0-1 .45-1 1s.45 1 1 1h1v5c0 1.66-1.34 3-3 3v2h5.97v7l1 1 1-1v-7H19v-2c-1.66 0-3-1.34-3-3V4h1c.55 0 1-.45 1-1s-.45-1-1-1z"/></svg><span class="t" style="left:1126.5px;top:857px;font-size:14px;line-height:20px;color:#1f1f1f;letter-spacing:-0.018px;">com.android.launcher3.views.DoubleShadowBubbleTextView@14881466</span><div class="a" style="left:1586.9px;top:857px;width:29px;height:20px;background:#b4c6f0;border-radius:10px;"></div><span class="t" style="left:1586.9px;top:857px;font-size:14px;line-height:20px;color:#1f1f1f;width:29px;text-align:center;">V</span><div class="a" style="left:1088.1px;top:893.3px;width:4.8px;height:4.8px;background:#9c9c9c;border-radius:50%;"></div><svg class="a" style="left:1106px;top:888px;" width="16" height="16" viewBox="0 0 24 24"><path fill="#1f1f1f" d="M14 4v5c0 1.12.37 2.16 1 3H9c.65-.86 1-1.9 1-3V4h4m3-2H7c-.55 0-1 .45-1 1s.45 1 1 1h1v5c0 1.66-1.34 3-3 3v2h5.97v7l1 1 1-1v-7H19v-2c-1.66 0-3-1.34-3-3V4h1c.55 0 1-.45 1-1s-.45-1-1-1z"/></svg><span class="t" style="left:1126.5px;top:883px;font-size:14px;line-height:20px;color:#1f1f1f;letter-spacing:-0.016px;">com.android.launcher3.views.DoubleShadowBubbleTextView@104846699</span><div class="a" style="left:1594.8px;top:883px;width:29px;height:20px;background:#b4c6f0;border-radius:10px;"></div><span class="t" style="left:1594.8px;top:883px;font-size:14px;line-height:20px;color:#1f1f1f;width:29px;text-align:center;">V</span><svg class="a" style="left:1000px;top:910px;" width="24" height="24" viewBox="0 0 24 24"><path fill="#1f1f1f" d="M7 10l5 5 5-5z"/></svg><svg class="a" style="left:1028px;top:914px;" width="16" height="16" viewBox="0 0 24 24"><path fill="#1f1f1f" d="M14 4v5c0 1.12.37 2.16 1 3H9c.65-.86 1-1.9 1-3V4h4m3-2H7c-.55 0-1 .45-1 1s.45 1 1 1h1v5c0 1.66-1.34 3-3 3v2h5.97v7l1 1 1-1v-7H19v-2c-1.66 0-3-1.34-3-3V4h1c.55 0 1-.45 1-1s-.45-1-1-1z"/></svg><span class="t" style="left:1048.5px;top:909px;font-size:14px;line-height:20px;color:#1f1f1f;letter-spacing:0.006px;">com.android.launcher3.Hotseat@129643566</span><div class="a" style="left:1332.9px;top:909px;width:29px;height:20px;background:#b4c6f0;border-radius:10px;"></div><span class="t" style="left:1332.9px;top:909px;font-size:14px;line-height:20px;color:#1f1f1f;width:29px;text-align:center;">V</span><svg class="a" style="left:1024px;top:936px;" width="24" height="24" viewBox="0 0 24 24"><path fill="#1f1f1f" d="M7 10l5 5 5-5z"/></svg><svg class="a" style="left:1052px;top:940px;" width="16" height="16" viewBox="0 0 24 24"><path fill="#1f1f1f" d="M14 4v5c0 1.12.37 2.16 1 3H9c.65-.86 1-1.9 1-3V4h4m3-2H7c-.55 0-1 .45-1 1s.45 1 1 1h1v5c0 1.66-1.34 3-3 3v2h5.97v7l1 1 1-1v-7H19v-2c-1.66 0-3-1.34-3-3V4h1c.55 0 1-.45 1-1s-.45-1-1-1z"/></svg><span class="t" style="left:1072.5px;top:935px;font-size:14px;line-height:20px;color:#1f1f1f;letter-spacing:-0.008px;">com.android.launcher3.ShortcutAndWidgetContainer@1210025</span><div class="a" style="left:1473.8px;top:935px;width:29px;height:20px;background:#b4c6f0;border-radius:10px;"></div><span class="t" style="left:1473.8px;top:935px;font-size:14px;line-height:20px;color:#1f1f1f;width:29px;text-align:center;">V</span><div class="a" style="left:1064.1px;top:971.3px;width:4.8px;height:4.8px;background:#9c9c9c;border-radius:50%;"></div><svg class="a" style="left:1082px;top:966px;" width="16" height="16" viewBox="0 0 24 24"><path fill="#1f1f1f" d="M14 4v5c0 1.12.37 2.16 1 3H9c.65-.86 1-1.9 1-3V4h4m3-2H7c-.55 0-1 .45-1 1s.45 1 1 1h1v5c0 1.66-1.34 3-3 3v2h5.97v7l1 1 1-1v-7H19v-2c-1.66 0-3-1.34-3-3V4h1c.55 0 1-.45 1-1s-.45-1-1-1z"/></svg><span class="t" style="left:1102.5px;top:961px;font-size:14px;line-height:20px;color:#1f1f1f;letter-spacing:-0.018px;">com.android.launcher3.views.DoubleShadowBubbleTextView@46142384</span><div class="a" style="left:1562.9px;top:961px;width:29px;height:20px;background:#b4c6f0;border-radius:10px;"></div><span class="t" style="left:1562.9px;top:961px;font-size:14px;line-height:20px;color:#1f1f1f;width:29px;text-align:center;">V</span><div class="a" style="left:1064.1px;top:997.3px;width:4.8px;height:4.8px;background:#9c9c9c;border-radius:50%;"></div><svg class="a" style="left:1082px;top:992px;" width="16" height="16" viewBox="0 0 24 24"><path fill="#1f1f1f" d="M14 4v5c0 1.12.37 2.16 1 3H9c.65-.86 1-1.9 1-3V4h4m3-2H7c-.55 0-1 .45-1 1s.45 1 1 1h1v5c0 1.66-1.34 3-3 3v2h5.97v7l1 1 1-1v-7H19v-2c-1.66 0-3-1.34-3-3V4h1c.55 0 1-.45 1-1s-.45-1-1-1z"/></svg><span class="t" style="left:1102.5px;top:987px;font-size:14px;line-height:20px;color:#1f1f1f;letter-spacing:-0.016px;">com.android.launcher3.views.DoubleShadowBubbleTextView@199766569</span><div class="a" style="left:1570.8px;top:987px;width:29px;height:20px;background:#b4c6f0;border-radius:10px;"></div><span class="t" style="left:1570.8px;top:987px;font-size:14px;line-height:20px;color:#1f1f1f;width:29px;text-align:center;">V</span><div class="a" style="left:1064.1px;top:1023.3px;width:4.8px;height:4.8px;background:#9c9c9c;border-radius:50%;"></div><svg class="a" style="left:1082px;top:1018px;" width="16" height="16" viewBox="0 0 24 24"><path fill="#1f1f1f" d="M14 4v5c0 1.12.37 2.16 1 3H9c.65-.86 1-1.9 1-3V4h4m3-2H7c-.55 0-1 .45-1 1s.45 1 1 1h1v5c0 1.66-1.34 3-3 3v2h5.97v7l1 1 1-1v-7H19v-2c-1.66 0-3-1.34-3-3V4h1c.55 0 1-.45 1-1s-.45-1-1-1z"/></svg><span class="t" style="left:1102.5px;top:1013px;font-size:14px;line-height:20px;color:#1f1f1f;letter-spacing:-0.018px;">com.android.launcher3.views.DoubleShadowBubbleTextView@98306478</span><div class="a" style="left:1562.9px;top:1013px;width:29px;height:20px;background:#b4c6f0;border-radius:10px;"></div><span class="t" style="left:1562.9px;top:1013px;font-size:14px;line-height:20px;color:#1f1f1f;width:29px;text-align:center;">V</span><div class="a" style="left:1064.1px;top:1049.3px;width:4.8px;height:4.8px;background:#9c9c9c;border-radius:50%;"></div><svg class="a" style="left:1082px;top:1044px;" width="16" height="16" viewBox="0 0 24 24"><path fill="#1f1f1f" d="M14 4v5c0 1.12.37 2.16 1 3H9c.65-.86 1-1.9 1-3V4h4m3-2H7c-.55 0-1 .45-1 1s.45 1 1 1h1v5c0 1.66-1.34 3-3 3v2h5.97v7l1 1 1-1v-7H19v-2c-1.66 0-3-1.34-3-3V4h1c.55 0 1-.45 1-1s-.45-1-1-1z"/></svg><span class="t" style="left:1102.5px;top:1039px;font-size:14px;line-height:20px;color:#1f1f1f;letter-spacing:-0.018px;">com.android.launcher3.views.DoubleShadowBubbleTextView@78784671</span><div class="a" style="left:1562.9px;top:1039px;width:29px;height:20px;background:#b4c6f0;border-radius:10px;"></div><span class="t" style="left:1562.9px;top:1039px;font-size:14px;line-height:20px;color:#1f1f1f;width:29px;text-align:center;">V</span></div></div>
<div class="a" style="left:1687px;top:94px;width:15px;height:952px;background:#f1f1f1;"></div>
<div class="a" style="left:1689px;top:109px;width:11px;height:382px;background:#c1c1c1;"></div>
<svg class="a" style="left:1690.2px;top:99.5px" width="8" height="4" viewBox="0 0 8 4"><path d="M0 4h8L4 0z" fill="#a6a6a6"/></svg>
<svg class="a" style="left:1690.5px;top:1036px" width="8" height="4" viewBox="0 0 8 4"><path d="M0 0h8L4 4z" fill="#505050"/></svg>
<div class="a" style="left:1710px;top:5px;width:845px;height:1053px;background:#fafafa;border-radius:4px;box-shadow:-1px 0 0 rgba(0,0,0,.08),1px 0 0 rgba(0,0,0,.08),0 -1px 0 rgba(0,0,0,.035),0 1px 0 rgba(0,0,0,.08);overflow:hidden;"></div><div class="a" style="left:1710px;top:5px;width:845px;height:48px;background:#f1f1f1;border-radius:4px 4px 0 0;"></div><div class="a" style="left:1710px;top:93px;width:845px;height:1px;background:#dadada;"></div>
<svg class="a" style="left:1721.5px;top:17.5px" width="24" height="24" viewBox="0 0 24 24"><rect x="4" y="3.2" width="16" height="17.3" rx="2" fill="none" stroke="#1f1f1f" stroke-width="2"/><rect x="8" y="4" width="2" height="16" fill="#1f1f1f"/><path d="M16.6 8v8l-4-4z" fill="#1f1f1f"/></svg>
<span class="t m2" style="left:1750.6px;top:14.6px;font-size:21px;line-height:28px;color:#1f1f1f;transform-origin:0 50%;transform:scaleX(0.8534);">PROPERTIES</span>
<span class="t" style="left:2300px;top:19px;font-size:14px;line-height:20px;color:#757575;letter-spacing:-0.393px;">Search</span><div class="a" style="left:2300px;top:43px;width:243px;height:1px;background:#8a8a8a;"></div><span class="t" style="left:2483.7px;top:21px;font-size:11.8px;line-height:18px;color:#1f1f1f;letter-spacing:-.3px;-webkit-text-stroke:.45px currentColor;">Aa</span><span class="t" style="left:2505.5px;top:18.6px;font-size:11px;line-height:18px;color:#1f1f1f;letter-spacing:-.35px;-webkit-text-stroke:.35px currentColor;">ab</span><div class="a" style="left:2503px;top:31.2px;width:16.8px;height:3.6px;border:1.4px solid #1f1f1f;border-top:none;box-sizing:border-box;"></div><span class="t" style="left:2524.5px;top:20.1px;font-size:11.8px;line-height:18px;color:#1f1f1f;font-weight:bold;letter-spacing:.1px;">(.*)</span>
<div class="a" style="left:1722px;top:61px;width:79px;height:24px;background:#dddddd;border-radius:4px;"></div><span class="t m" style="left:1731.5px;top:63px;font-size:14px;line-height:20px;color:#1f1f1f;letter-spacing:0.295px;">Show diff</span>
<div class="a" style="left:1811px;top:61px;width:109px;height:24px;background:#dddddd;border-radius:4px;"></div><span class="t m" style="left:1821px;top:63px;font-size:14px;line-height:20px;color:#1f1f1f;letter-spacing:0.119px;">Show defaults</span>
<span class="t" style="left:1718px;top:104px;font-size:16px;line-height:24px;color:#808080;letter-spacing:0.027px;">View</span>
<span class="t" style="left:1803px;top:102px;font-size:14px;line-height:20px;color:#1f1f1f;letter-spacing:0.048px;">Class: <b>com.android.launcher3.ShortcutAndWidgetContainer@74237310</b></span>
<span class="t" style="left:1803px;top:122px;font-size:14px;line-height:20px;color:#1f1f1f;letter-spacing:0.021px;">Hashcode: <b>74237310</b></span>
<div class="a" style="left:1710px;top:150px;width:845px;height:1px;background:#dadada;"></div>
<span class="t" style="left:1718px;top:161px;font-size:16px;line-height:24px;color:#808080;letter-spacing:-0.156px;">Geometry</span>
<span class="t" style="left:1803px;top:160px;font-size:12px;line-height:18px;color:#808080;letter-spacing:-0.020px;">Coordinates</span>
<span class="t" style="left:1803px;top:179px;font-size:14px;line-height:20px;color:#1f1f1f;letter-spacing:-0.027px;">Left: <b>28</b></span>
<span class="t" style="left:1803px;top:199px;font-size:14px;line-height:20px;color:#1f1f1f;letter-spacing:-0.062px;">Top: <b>28</b></span>
<span class="t" style="left:1803px;top:219px;font-size:14px;line-height:20px;color:#1f1f1f;letter-spacing:-0.181px;">Elevation: <b>0</b></span>
<span class="t" style="left:1803px;top:256px;font-size:12px;line-height:18px;color:#808080;letter-spacing:-0.175px;">Translation</span>
<span class="t" style="left:1803px;top:275px;font-size:14px;line-height:20px;color:#1f1f1f;letter-spacing:-0.065px;">Translation X: <b>0</b></span>
<span class="t" style="left:1803px;top:295px;font-size:14px;line-height:20px;color:#1f1f1f;letter-spacing:-0.032px;">Translation Y: <b>0</b></span>
<span class="t" style="left:1803px;top:334px;font-size:12px;line-height:18px;color:#808080;letter-spacing:-0.206px;">Scale</span>
<span class="t" style="left:1803px;top:353px;font-size:14px;line-height:20px;color:#1f1f1f;letter-spacing:-0.433px;">Scale X: <b>1</b></span>
<span class="t" style="left:1803px;top:373px;font-size:14px;line-height:20px;color:#1f1f1f;letter-spacing:-0.331px;">Scale Y: <b>1</b></span>
<div class="a" style="left:2169px;top:159px;width:378px;height:80px;border:1px solid #dcdcdc;border-left:5px solid #dcdcdc;box-sizing:border-box;"></div>
<span class="t" style="left:2179.5px;top:161px;font-size:12px;line-height:18px;color:#808080;letter-spacing:-0.336px;">Size</span>
<span class="t" style="left:2179.5px;top:180px;font-size:14px;line-height:20px;color:#1f1f1f;letter-spacing:-0.034px;">Height: <b>1533</b></span>
<span class="t" style="left:2179.5px;top:200px;font-size:14px;line-height:20px;color:#1f1f1f;letter-spacing:-0.044px;">Width: <b>946</b></span>
<div class="a" style="left:2169px;top:255px;width:378px;height:62px;border:1px solid #dcdcdc;border-left:5px solid #dcdcdc;box-sizing:border-box;"></div>
<span class="t" style="left:2179.5px;top:257px;font-size:12px;line-height:18px;color:#808080;letter-spacing:-0.003px;">Scroll</span>
<span class="t" style="left:2179.5px;top:276px;font-size:14px;line-height:20px;color:#1f1f1f;letter-spacing:-0.210px;">Scroll X: <b>0</b></span>
<span class="t" style="left:2179.5px;top:296px;font-size:14px;line-height:20px;color:#1f1f1f;letter-spacing:-0.118px;">Scroll Y: <b>0</b></span>
<div class="a" style="left:1710px;top:401px;width:845px;height:1px;background:#dadada;"></div>
<span class="t" style="left:1718px;top:411.5px;font-size:16px;line-height:24px;color:#808080;letter-spacing:0.125px;">Effects</span>
<span class="t" style="left:1803px;top:411px;font-size:12px;line-height:18px;color:#808080;letter-spacing:-0.175px;">Translation</span>
<span class="t" style="left:1803px;top:430px;font-size:14px;line-height:20px;color:#1f1f1f;letter-spacing:0.047px;">Visibility: <b>0</b></span>
<span class="t" style="left:1803px;top:450px;font-size:14px;line-height:20px;color:#1f1f1f;letter-spacing:-0.361px;">Alpha: <b>1</b></span>
<span class="t" style="left:1803px;top:470px;font-size:14px;line-height:20px;color:#1f1f1f;letter-spacing:-0.089px;">Will Not Draw: <b>true</b></span>
<div class="a" style="left:2169px;top:410px;width:378px;height:80px;border:1px solid #dcdcdc;border-left:5px solid #dcdcdc;box-sizing:border-box;"></div>
<span class="t" style="left:2179.5px;top:412px;font-size:12px;line-height:18px;color:#808080;letter-spacing:-0.081px;">Miscellaneous</span>
<span class="t" style="left:2179.5px;top:431px;font-size:14px;line-height:20px;color:#1f1f1f;letter-spacing:-0.076px;">Clip Children: <b>false</b></span>
<div class="a" style="left:2518px;top:1022px;width:45px;height:45px;background:#fafafa;border:1px solid #d6d6d6;border-radius:5px 0 0 0;box-sizing:border-box;"></div>
<svg class="a" style="left:2527px;top:1031.7px" width="24" height="24" viewBox="0 0 24 24"><circle cx="12" cy="12" r="8.8" fill="none" stroke="#111" stroke-width="2"/><path d="M8.3 13.9 12 10.2l3.7 3.7" fill="none" stroke="#111" stroke-width="2"/></svg>
</div>
</body></html>
